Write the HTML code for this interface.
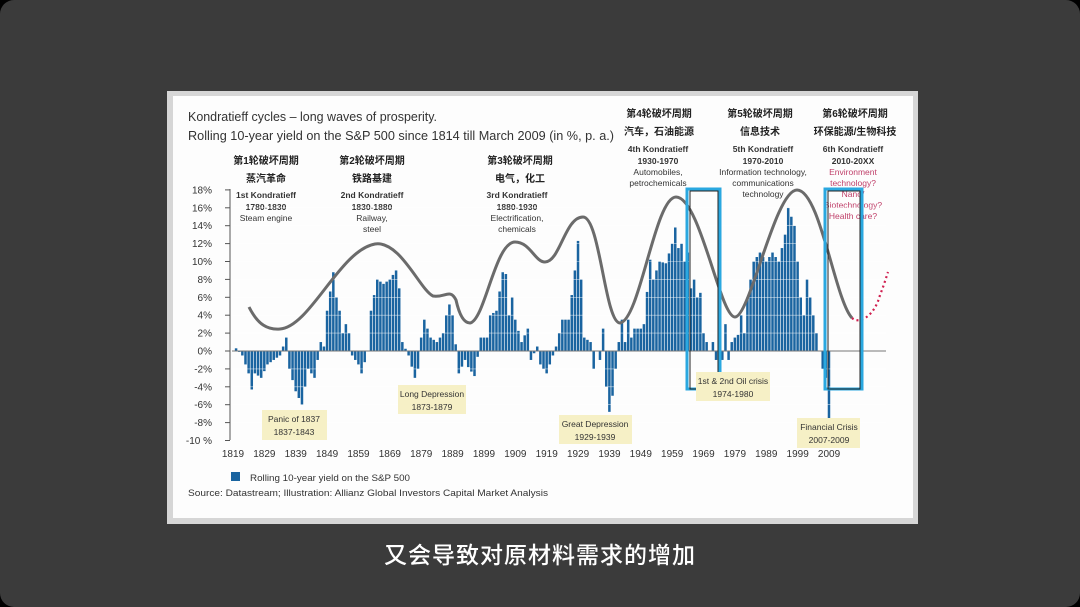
<!DOCTYPE html>
<html><head><meta charset="utf-8"><style>
html,body{margin:0;padding:0;background:#000;}
#wrap{position:relative;width:1080px;height:607px;background:#3b3b3b;border-radius:14px;overflow:hidden;}
svg{position:absolute;left:0;top:0;}
.sub{position:absolute;left:0;width:1080px;top:536px;text-align:center;color:#fff;font:500 23px "Liberation Sans","Noto Sans CJK SC",sans-serif;letter-spacing:1px;}
</style></head><body>
<div id="wrap">
<svg id="s" width="1080" height="607" xmlns="http://www.w3.org/2000/svg" font-family="Liberation Sans, Noto Sans CJK SC, sans-serif">
<rect x="167" y="91" width="751" height="433" fill="#d6d6d6"/>
<rect x="173" y="96" width="740" height="422" fill="#fdfdfd"/>
<g fill="#333">
<text x="188" y="121" font-size="13" textLength="249" lengthAdjust="spacingAndGlyphs">Kondratieff cycles – long waves of prosperity.</text>
<text x="188" y="140" font-size="13" textLength="426" lengthAdjust="spacingAndGlyphs">Rolling 10-year yield on the S&amp;P 500 since 1814 till March 2009 (in %, p. a.)</text>
</g>
<g font-size="10" fill="#222" text-anchor="middle" font-weight="bold">
<text x="266" y="164">第1轮破坏周期</text><text x="266" y="182">蒸汽革命</text>
<text x="372" y="164">第2轮破坏周期</text><text x="372" y="182">铁路基建</text>
<text x="520" y="164">第3轮破坏周期</text><text x="520" y="182">电气，化工</text>
<text x="659" y="117">第4轮破坏周期</text><text x="659" y="135">汽车，石油能源</text>
<text x="760" y="117">第5轮破坏周期</text><text x="760" y="135">信息技术</text>
<text x="855" y="117">第6轮破坏周期</text><text x="855" y="135">环保能源/生物科技</text>
</g>
<g font-size="8.5" fill="#333" text-anchor="middle">
<text x="266" y="198" font-weight="bold">1st Kondratieff</text><text x="266" y="210" font-weight="bold">1780-1830</text><text x="266" y="221">Steam engine</text>
<text x="372" y="198" font-weight="bold">2nd Kondratieff</text><text x="372" y="210" font-weight="bold">1830-1880</text><text x="372" y="221">Railway,</text><text x="372" y="232">steel</text>
<text x="517" y="198" font-weight="bold">3rd Kondratieff</text><text x="517" y="210" font-weight="bold">1880-1930</text><text x="517" y="221">Electrification,</text><text x="517" y="232">chemicals</text>
<text x="658" y="152" font-weight="bold">4th Kondratieff</text><text x="658" y="164" font-weight="bold">1930-1970</text><text x="658" y="175">Automobiles,</text><text x="658" y="186">petrochemicals</text>
<text x="763" y="152" font-weight="bold">5th Kondratieff</text><text x="763" y="164" font-weight="bold">1970-2010</text><text x="763" y="175">Information technology,</text><text x="763" y="186">communications</text><text x="763" y="197">technology</text>
<text x="853" y="152" font-weight="bold">6th Kondratieff</text><text x="853" y="164" font-weight="bold">2010-20XX</text>
<g fill="#c0406a"><text x="853" y="175">Environment</text><text x="853" y="186">technology?</text><text x="853" y="197">Nano/</text><text x="853" y="208">Biotechnology?</text><text x="853" y="219">Health care?</text></g>
</g>
<g id="ax" font-size="10" fill="#333"></g>
<g id="bars"></g>
<path d="M249,307 C258,325 268,330 280,329 C310,327 340,250 375,244 C400,240 420,290 433,296 C445,298 450,288 456,300 C460,318 465,323 470,323 C485,320 495,242 515,242 C530,242 535,262 545,262 C560,262 565,217 583,217 C600,217 605,323 620,323 C640,320 655,197 676,197 C700,197 720,317 735,317 C750,317 775,190 797,190 C820,190 835,300 852,318" fill="none" stroke="#6b6b6b" stroke-width="3"/>
<path d="M852,318 C860,325 875,315 880,295 C884,285 886,278 888,272" fill="none" stroke="#d02050" stroke-width="2.2" stroke-dasharray="2,3"/>
<g fill="none">
<rect x="687" y="189" width="33" height="200" stroke="#2aa8e0" stroke-width="3"/>
<rect x="690" y="191" width="28" height="198" stroke="#222" stroke-width="1"/>
<rect x="825" y="189" width="37" height="200" stroke="#2aa8e0" stroke-width="3"/>
<rect x="828" y="191" width="32" height="198" stroke="#222" stroke-width="1"/>
</g>
<g font-size="8.5" fill="#333" text-anchor="middle">
<rect x="262" y="410" width="65" height="30" fill="#f6f0c6"/><text x="294" y="422">Panic of 1837</text><text x="294" y="435">1837-1843</text>
<rect x="398" y="385" width="68" height="29" fill="#f6f0c6"/><text x="432" y="397">Long Depression</text><text x="432" y="410">1873-1879</text>
<rect x="559" y="415" width="73" height="29" fill="#f6f0c6"/><text x="595" y="427">Great Depression</text><text x="595" y="440">1929-1939</text>
<rect x="696" y="372" width="74" height="29" fill="#f6f0c6"/><text x="733" y="384">1st &amp; 2nd Oil crisis</text><text x="733" y="397">1974-1980</text>
<rect x="797" y="418" width="63" height="30" fill="#f6f0c6"/><text x="829" y="430">Financial Crisis</text><text x="829" y="443">2007-2009</text>
</g>
<rect x="231" y="472" width="9" height="9" fill="#1a64a0"/>
<text x="250" y="481" font-size="9.5" fill="#333" textLength="160" lengthAdjust="spacingAndGlyphs">Rolling 10-year yield on the S&amp;P 500</text>
<text x="188" y="496" font-size="9.5" fill="#333" textLength="360" lengthAdjust="spacingAndGlyphs">Source: Datastream; Illustration: Allianz Global Investors Capital Market Analysis</text>
</svg>
<div class="sub">又会导致对原材料需求的增加</div>
</div>
<script>
var NS="http://www.w3.org/2000/svg";
function el(t,a,p){var e=document.createElementNS(NS,t);for(var k in a)e.setAttribute(k,a[k]);p.appendChild(e);return e;}
function Y(v){return 351-v*8.95;}
function X(yr){return 233+(yr-1819)*3.137;}
var ax=document.getElementById('ax');
el('line',{x1:230,y1:189,x2:230,y2:440,stroke:'#555','stroke-width':1},ax);
for(var v=18;v>=-10;v-=2){var y=Y(v);el('line',{x1:225,y1:y,x2:230,y2:y,stroke:'#555','stroke-width':1},ax);
var t=el('text',{x:212,y:y+3.5,'text-anchor':'end','font-size':'10'},ax);t.textContent=v+(v==-10?' %':'%');}
for(var yr=1819;yr<=2009;yr+=10){var t=el('text',{x:X(yr),y:457,'text-anchor':'middle','font-size':'10'},ax);t.textContent=yr;}
var k=[[1820,.3],[1822,-.5],[1824,-2.5],[1825,-4.3],[1826,-2.5],[1828,-3],[1830,-1.5],[1832,-1],[1834,-.5],[1836,1.5],[1837,-2],[1839,-4.5],[1841,-6],[1843,-2],[1845,-3],[1847,1],[1848,.5],[1849,4.5],[1851,8.8],[1852,6],[1853,4.5],[1854,2],[1855,3],[1856,2],[1857,-.5],[1859,-1.5],[1860,-2.5],[1862,0],[1863,4.5],[1865,8],[1867,7.5],[1869,8],[1871,9],[1872,7],[1873,1],[1875,-.5],[1877,-3],[1878,-2],[1879,1.5],[1880,3.5],[1882,1.5],[1884,1],[1886,2],[1887,4],[1888,5.2],[1889,4],[1891,-2.5],[1893,-1],[1894,-1.8],[1896,-2.8],[1898,1.5],[1900,1.5],[1901,4],[1903,4.5],[1905,8.8],[1906,8.6],[1907,4],[1908,6],[1909,3.5],[1911,1],[1913,2.5],[1914,-1],[1916,.5],[1917,-1.5],[1919,-2.5],[1920,-1.5],[1922,.5],[1924,3.5],[1926,3.5],[1928,9],[1929,12.3],[1930,8],[1931,1.5],[1933,1],[1934,-2],[1935,0],[1936,-1],[1937,2.5],[1938,-4],[1939,-6.8],[1940,-5],[1941,-2],[1942,1],[1943,3.5],[1944,1],[1945,3.5],[1946,1.5],[1947,2.5],[1949,2.5],[1950,3],[1952,10.2],[1953,8],[1955,10],[1957,9.8],[1959,12],[1960,13.8],[1961,11.5],[1962,12],[1963,10],[1964,11],[1965,7],[1966,8],[1967,6],[1968,6.5],[1969,2],[1970,1],[1971,0],[1972,1],[1973,-1],[1974,-2],[1975,-1],[1976,3],[1977,-1],[1978,1],[1979,1.5],[1980,1.8],[1981,4],[1982,2],[1983,6],[1985,10],[1987,11],[1989,10],[1991,11],[1993,10],[1995,13],[1996,16],[1997,15],[1998,14],[1999,10],[2000,6],[2001,4],[2002,8],[2003,6],[2004,4],[2005,2],[2006,0],[2007,-2],[2008,-3],[2009,-7.8]];
function val(yr){for(var i=0;i<k.length-1;i++){if(yr>=k[i][0]&&yr<=k[i+1][0]){var f=(yr-k[i][0])/(k[i+1][0]-k[i][0]);return k[i][1]+f*(k[i+1][1]-k[i][1]);}}return 0;}
var b=document.getElementById('bars');
for(var yr=1820;yr<=2009;yr++){var v=val(yr);var x=X(yr)-1.3;var y0=Y(Math.max(v,0)),h=Math.abs(v)*8.95;
el('rect',{x:x,y:y0,width:2.5,height:Math.max(h,.5),fill:'#1a64a0'},b);}
for(var v=-8;v<=16;v+=2){if(v==0)continue;el('line',{x1:232,y1:Y(v),x2:886,y2:Y(v),stroke:'#fff','stroke-width':.6,'stroke-opacity':.7},b);}
el('line',{x1:232,y1:351,x2:886,y2:351,stroke:'#777','stroke-width':1},b);
</script>
</body></html>
